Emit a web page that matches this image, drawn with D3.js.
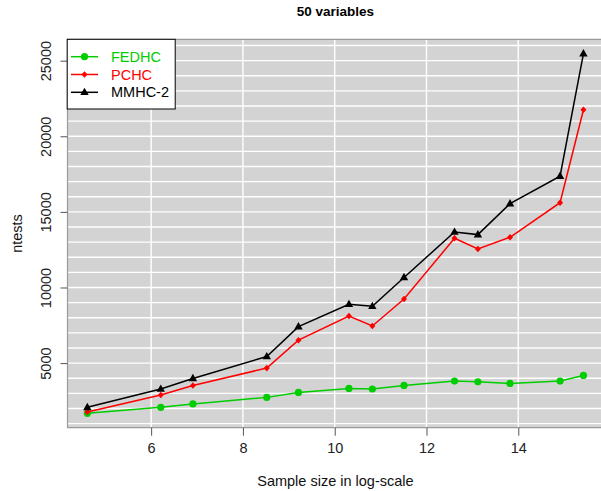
<!DOCTYPE html>
<html><head><meta charset="utf-8">
<script src="https://cdn.jsdelivr.net/npm/d3@7"></script>
<style>body{margin:0;background:#fff}svg{display:block;font-family:"Liberation Sans",Arial,sans-serif}</style>
</head><body><svg id="c" width="601" height="491"></svg>
<script>
const logSize = [4.61, 6.21, 6.91, 8.52, 9.21, 10.31, 10.82, 11.51, 12.61, 13.12, 13.82, 14.91, 15.42];
const fedhc = [1680, 2075, 2299, 2734, 3063, 3327, 3287, 3524, 3814, 3768, 3656, 3814, 4183];
const pchc = [1772, 2892, 3524, 4670, 6515, 8116, 7457, 9236, 13254, 12550, 13320, 15606, 21752];
const mmhc2 = [2075, 3287, 3986, 5435, 7411, 8893, 8761, 10665, 13669, 13498, 15540, 17358, 25461];
const seriesNames = ["FEDHC", "PCHC", "MMHC-2"];
const seriesColors = ["#00cd00", "#ff0000", "#000000"];
const xTicks = [6, 8, 10, 12, 14];
const yTicks = [5000, 10000, 15000, 20000, 25000];
const yGrid = d3.range(1000, 26001, 1000);

const svg = d3.select("#c");
const L = 67.5, R = 603.3, T = 39.3, B = 427.7;
function pad(ext){const d=(ext[1]-ext[0])*0.04;return [ext[0]-d, ext[1]+d];}
const x = d3.scaleLinear().domain(pad(d3.extent(logSize))).range([L, R]);
const allY = fedhc.concat(pchc, mmhc2);
const y = d3.scaleLinear().domain(pad(d3.extent(allY))).range([B, T]);

svg.append("rect").attr("x", L).attr("y", T).attr("width", R - L).attr("height", B - T).attr("fill", "#d3d3d3");
svg.append("g").selectAll("line").data(yGrid).join("line")
  .attr("x1", L).attr("x2", R).attr("y1", d => y(d)).attr("y2", d => y(d))
  .attr("stroke", "#fff").attr("stroke-width", 1.4);
svg.append("g").selectAll("line").data(xTicks).join("line")
  .attr("y1", T).attr("y2", B).attr("x1", d => x(d)).attr("x2", d => x(d))
  .attr("stroke", "#fff").attr("stroke-width", 1.4);
// box
svg.append("path").attr("d", `M${R},${T}H${L}V${B}H${R}`).attr("fill", "none").attr("stroke", "#9a9a9a").attr("stroke-width", 1.2);

// axes
const xAxis = svg.append("g").attr("transform", `translate(0,${B})`)
  .call(d3.axisBottom(x).tickValues(xTicks).tickSize(8).tickPadding(7));
const yAxis = svg.append("g").attr("transform", `translate(${L},0)`)
  .call(d3.axisLeft(y).tickValues(yTicks).tickFormat(d3.format("d")).tickSize(7).tickPadding(5));
[xAxis, yAxis].forEach(a => { a.select(".domain").remove(); a.selectAll("line").attr("stroke", "#555");
  a.selectAll("text").attr("font-size", 14.5).attr("fill", "#222").attr("font-family", "Liberation Sans, Arial, sans-serif"); });
yAxis.selectAll(".tick text").attr("transform", "rotate(-90)").attr("text-anchor", "middle")
  .attr("x", 0).attr("y", -17).attr("dy", "0");

// titles
svg.append("text").attr("x", (L + R) / 2).attr("y", 16).attr("text-anchor", "middle")
  .attr("font-weight", "bold").attr("font-size", 13.5).text("50 variables");
svg.append("text").attr("x", (L + R) / 2).attr("y", 486).attr("text-anchor", "middle")
  .attr("font-size", 14.5).attr("fill", "#111").text("Sample size in log-scale");
svg.append("text").attr("transform", `translate(22,${(T + B) / 2}) rotate(-90)`).attr("text-anchor", "middle")
  .attr("font-size", 14.5).attr("fill", "#111").text("ntests");

// series
const data = [fedhc, pchc, mmhc2];
const line = d3.line().x((d, i) => x(logSize[i])).y(d => y(d));
function marker(g, k, cx, cy) {
  if (k === 0) g.append("circle").attr("cx", cx).attr("cy", cy).attr("r", 3.6).attr("fill", seriesColors[k]);
  else if (k === 1) g.append("path").attr("d", `M${cx},${cy-3.3}L${cx+3},${cy}L${cx},${cy+3.3}L${cx-3},${cy}Z`).attr("fill", seriesColors[k]);
  else g.append("path").attr("d", `M${cx},${cy-4.6}L${cx+4.2},${cy+2.8}L${cx-4.2},${cy+2.8}Z`).attr("fill", seriesColors[k]);
}
data.forEach((vals, k) => {
  const g = svg.append("g");
  g.append("path").attr("d", line(vals)).attr("fill", "none").attr("stroke", seriesColors[k]).attr("stroke-width", 1.5);
  vals.forEach((v, i) => marker(g, k, x(logSize[i]), y(v)));
});

// legend
const lg = svg.append("g");
lg.append("rect").attr("x", 67.2).attr("y", 39.3).attr("width", 108).attr("height", 69.7)
  .attr("fill", "#fff").attr("stroke", "#000").attr("stroke-width", 1);
seriesNames.forEach((n, k) => {
  const cy = 56.7 + k * 17.8;
  lg.append("line").attr("x1", 71).attr("x2", 98).attr("y1", cy).attr("y2", cy).attr("stroke", seriesColors[k]).attr("stroke-width", 1.5);
  marker(lg, k, 84.5, cy);
  lg.append("text").attr("x", 111).attr("y", cy + 5).attr("font-size", 14.5).attr("fill", seriesColors[k]).text(n);
});
</script></body></html>
